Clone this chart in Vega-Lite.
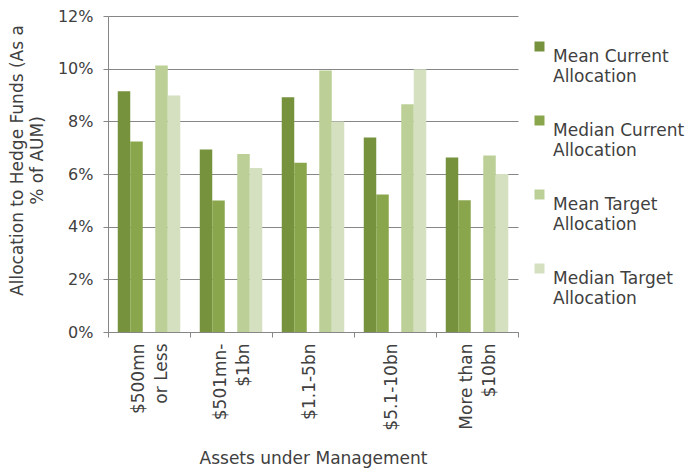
{
  "$schema": "https://vega.github.io/schema/vega-lite/v6.json",
  "width": 410,
  "height": 316,
  "autosize": "none",
  "padding": {"left": 108, "top": 16, "right": 172, "bottom": 142},
  "background": "white",
  "config": {
    "view": {"stroke": null},
    "font": "DejaVu Sans",
    "style": {"guide-label": {"lineHeight": 20}}
  },
  "data": {
    "values": [
      {"aum": "$500mn or Less", "series": "Mean Current Allocation", "value": 0.0914},
      {"aum": "$500mn or Less", "series": "Median Current Allocation", "value": 0.0723},
      {"aum": "$500mn or Less", "series": "Mean Target Allocation", "value": 0.1012},
      {"aum": "$500mn or Less", "series": "Median Target Allocation", "value": 0.0898},
      {"aum": "$501mn-$1bn", "series": "Mean Current Allocation", "value": 0.0693},
      {"aum": "$501mn-$1bn", "series": "Median Current Allocation", "value": 0.0499},
      {"aum": "$501mn-$1bn", "series": "Mean Target Allocation", "value": 0.0676},
      {"aum": "$501mn-$1bn", "series": "Median Target Allocation", "value": 0.0623},
      {"aum": "$1.1-5bn", "series": "Mean Current Allocation", "value": 0.0891},
      {"aum": "$1.1-5bn", "series": "Median Current Allocation", "value": 0.0643},
      {"aum": "$1.1-5bn", "series": "Mean Target Allocation", "value": 0.0993},
      {"aum": "$1.1-5bn", "series": "Median Target Allocation", "value": 0.0799},
      {"aum": "$5.1-10bn", "series": "Mean Current Allocation", "value": 0.0739},
      {"aum": "$5.1-10bn", "series": "Median Current Allocation", "value": 0.0522},
      {"aum": "$5.1-10bn", "series": "Mean Target Allocation", "value": 0.0865},
      {"aum": "$5.1-10bn", "series": "Median Target Allocation", "value": 0.0998},
      {"aum": "More than $10bn", "series": "Mean Current Allocation", "value": 0.0663},
      {"aum": "More than $10bn", "series": "Median Current Allocation", "value": 0.05},
      {"aum": "More than $10bn", "series": "Mean Target Allocation", "value": 0.067},
      {"aum": "More than $10bn", "series": "Median Target Allocation", "value": 0.06}
    ]
  },
  "mark": {"type": "bar"},
  "encoding": {
    "x": {
      "field": "aum",
      "type": "nominal",
      "sort": ["$500mn or Less", "$501mn-$1bn", "$1.1-5bn", "$5.1-10bn", "More than $10bn"],
      "scale": {"paddingInner": 0, "paddingOuter": 0},
      "axis": {
        "title": "Assets under Management",
        "titleFontSize": 17,
        "titleFontWeight": "normal",
        "titleColor": "#404040",
        "titleBaseline": "middle",
        "titleY": 126,
        "tickBand": "extent",
        "tickSize": 5,
        "tickColor": "#868686",
        "domainColor": "#868686",
        "grid": false,
        "labelAngle": -90,
        "labelAlign": "right",
        "labelBaseline": "middle",
        "labelPadding": 6,
        "labelFontSize": 17,
        "labelLineHeight": 23,
        "labelColor": "#404040",
        "labelOffset": {"condition": {"test": "datum.value == '$1.1-5bn' || datum.value == '$5.1-10bn'", "value": -4}, "value": -11},
        "labelExpr": "datum.value == '$500mn or Less' ? ['$500mn', 'or Less'] : datum.value == '$501mn-$1bn' ? ['$501mn-', '$1bn'] : datum.value == 'More than $10bn' ? ['More than', '$10bn'] : datum.value"
      }
    },
    "xOffset": {
      "field": "series",
      "type": "nominal",
      "scale": {
        "domain": ["Mean Current Allocation", "Median Current Allocation", "_gap", "Mean Target Allocation", "Median Target Allocation"],
        "paddingInner": 0,
        "paddingOuter": 0.78
      }
    },
    "y": {
      "field": "value",
      "type": "quantitative",
      "scale": {"domain": [0, 0.12], "nice": false},
      "axis": {
        "values": [0, 0.02, 0.04, 0.06, 0.08, 0.1, 0.12],
        "format": ".0%",
        "title": ["Allocation to Hedge Funds (As a", "% of AUM)"],
        "titleFontSize": 17,
        "titleFontWeight": "normal",
        "titleColor": "#404040",
        "titleAngle": -90,
        "titleAlign": "center",
        "titleBaseline": "middle",
        "titleX": -91,
        "titleY": 144,
        "titleLineHeight": 20,
        "grid": true,
        "gridColor": "#868686",
        "gridWidth": 1,
        "domainColor": "#868686",
        "tickColor": "#868686",
        "tickSize": 5,
        "labelPadding": 10,
        "labelFontSize": 16,
        "labelColor": "#404040"
      }
    },
    "color": {
      "field": "series",
      "type": "nominal",
      "scale": {
        "domain": ["Mean Current Allocation", "Median Current Allocation", "Mean Target Allocation", "Median Target Allocation"],
        "range": ["#76923C", "#8AA64C", "#BBCF96", "#D4E0C0"]
      },
      "legend": {
        "orient": "none",
        "legendX": 423,
        "legendY": 32,
        "title": null,
        "padding": 0,
        "symbolType": "M-1,-3H1V-1H-1Z",
        "symbolSize": 100,
        "symbolStrokeWidth": 0,
        "labelFontSize": 17,
        "labelColor": "#404040",
        "labelOffset": 5,
        "labelLimit": 200,
        "labelBaseline": "middle",
        "rowPadding": 30,
        "labelExpr": "[replace(datum.label, ' Allocation', ''), 'Allocation']"
      }
    }
  }
}
